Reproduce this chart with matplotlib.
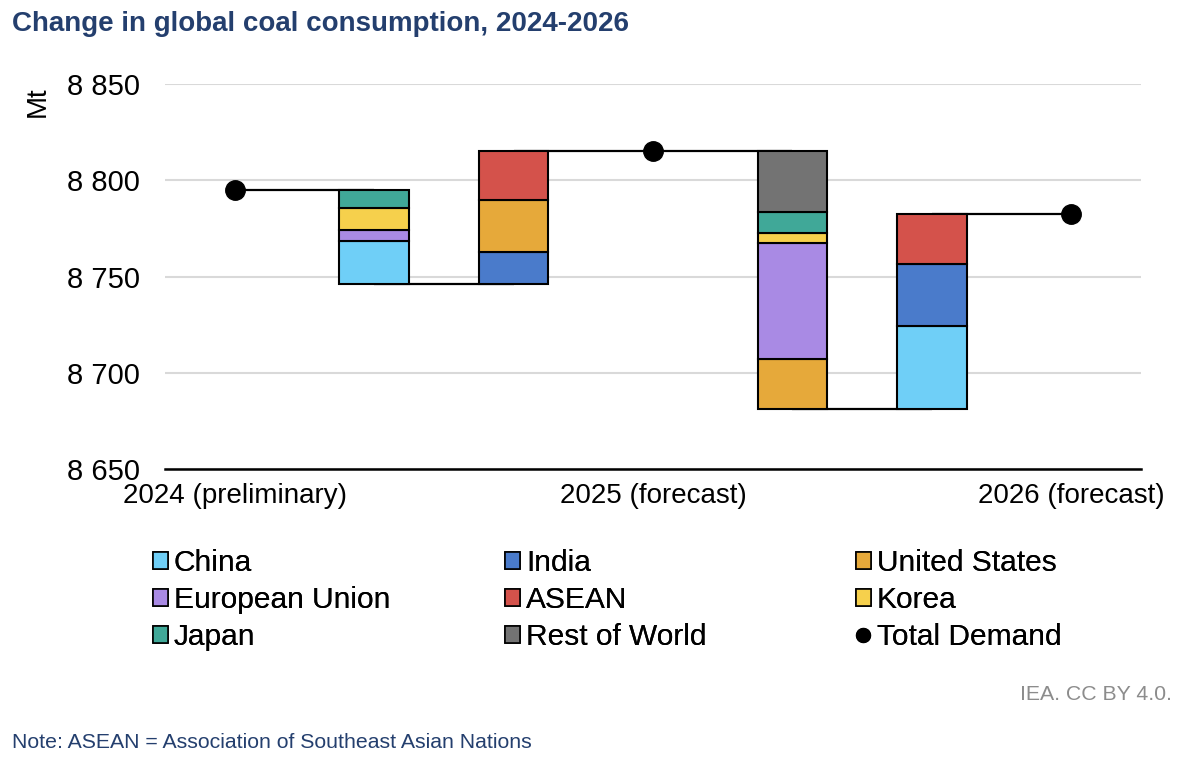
import matplotlib
matplotlib.use("Agg")
import matplotlib.pyplot as plt
from matplotlib.patches import Patch
from matplotlib.lines import Line2D

plt.rcParams['font.family'] = ['Liberation Sans', 'DejaVu Sans']

# ---- data ----
regions = ["China", "India", "United States", "European Union", "ASEAN",
           "Korea", "Japan", "Rest of World"]
colors = ["#6FCFF7", "#4A7BCB", "#E6A93A", "#A98AE4", "#D4524B",
          "#F6D04C", "#40A898", "#737373"]
total_2024 = 8795.0
change_2025 = [-22.5, 16.4, 27.0, -5.4, 25.7, -11.3, -9.6, 0.0]
change_2026 = [43.0, 32.3, -26.0, -60.2, 26.0, -5.2, -11.3, -31.6]
x_labels = ["2024 (preliminary)", "2025 (forecast)", "2026 (forecast)"]

fig = plt.figure(figsize=(11.86, 7.68), dpi=100)
ax = fig.add_axes([165/1186, 1-468.7/768, (1141-165)/1186, (468.7-84.3)/768])

bar_w = 0.5
edge_lw = 1.5
level = total_2024
totals = [total_2024]
connectors = []  # (x0, x1, y)
pos = 0
for changes in (change_2025, change_2026):
    # decrease bar
    neg_sum = sum(c for c in changes if c < 0)
    start = level
    low = level + neg_sum
    connectors.append((pos, pos + 1, start))
    b = low
    for r, c, col in zip(regions, changes, colors):
        if c < 0:
            ax.bar(pos + 1, -c, bottom=b, width=bar_w, color=col,
                   edgecolor="black", linewidth=edge_lw, zorder=3)
            b += -c
    # increase bar
    connectors.append((pos + 1, pos + 2, low))
    b = low
    for r, c, col in zip(regions, changes, colors):
        if c > 0:
            ax.bar(pos + 2, c, bottom=b, width=bar_w, color=col,
                   edgecolor="black", linewidth=edge_lw, zorder=3)
            b += c
    level = b
    connectors.append((pos + 2, pos + 3, level))
    totals.append(level)
    pos += 3

for x0, x1, y in connectors:
    ax.plot([x0, x1], [y, y], color="black", lw=1.6, zorder=2,
            solid_capstyle="butt")

ax.plot([0, 3, 6], totals, linestyle="none", marker="o", ms=14,
        color="black", zorder=5)

ax.set_xlim(-0.5, 6.5)
ax.set_ylim(8650, 8850)
ax.set_yticks([8650, 8700, 8750, 8800, 8850])
ax.set_yticklabels(["8 650", "8 700", "8 750", "8 800", "8 850"], fontsize=21)
ax.set_xticks([0, 3, 6])
ax.set_xticklabels(x_labels, fontsize=20)
ax.tick_params(axis="y", length=0, pad=18)
ax.tick_params(axis="x", length=0, pad=10)
ax.grid(axis="y", color="#D9D9D9", lw=1.5, zorder=0)
ax.set_axisbelow(True)
for s in ["top", "right", "left"]:
    ax.spines[s].set_visible(False)
ax.spines["bottom"].set_linewidth(1.8)
ax.spines["bottom"].set_zorder(4)

fig.text(38/1186, 1-102/768, "Mt", rotation=90, fontsize=20,
         ha="center", va="center")

fig.text(12/1186, 1-24/768, "Change in global coal consumption, 2024-2026",
         fontsize=20, fontweight="bold", color="#243F6E", ha="left", va="center")

# legend in three columns
handles = {r: Patch(facecolor=c, edgecolor="black", linewidth=1.2)
           for r, c in zip(regions, colors)}
handles["Total Demand"] = Line2D([], [], marker="o", color="black",
                                 linestyle="none", ms=10)
cols = [["China", "European Union", "Japan"],
        ["India", "ASEAN", "Rest of World"],
        ["United States", "Korea", "Total Demand"]]
col_x = [153, 505, 856]
for names, xpx in zip(cols, col_x):
    leg = fig.legend([handles[n] for n in names], names,
                     loc="upper left", bbox_to_anchor=(xpx/1186, 1-549/768),
                     frameon=False, fontsize=21.5, handlelength=0.5,
                     handleheight=0.5, handletextpad=0.2,
                     labelspacing=0.3, borderpad=0, borderaxespad=0)
    fig.add_artist(leg)

fig.text(1172/1186, 1-694/768, "IEA. CC BY 4.0.", fontsize=15.3,
         color="#8C8C8C", ha="right", va="center")
fig.text(12/1186, 1-742/768, "Note: ASEAN = Association of Southeast Asian Nations",
         fontsize=15.3, color="#243F6E", ha="left", va="center")

fig.savefig("out.png", dpi=100)
